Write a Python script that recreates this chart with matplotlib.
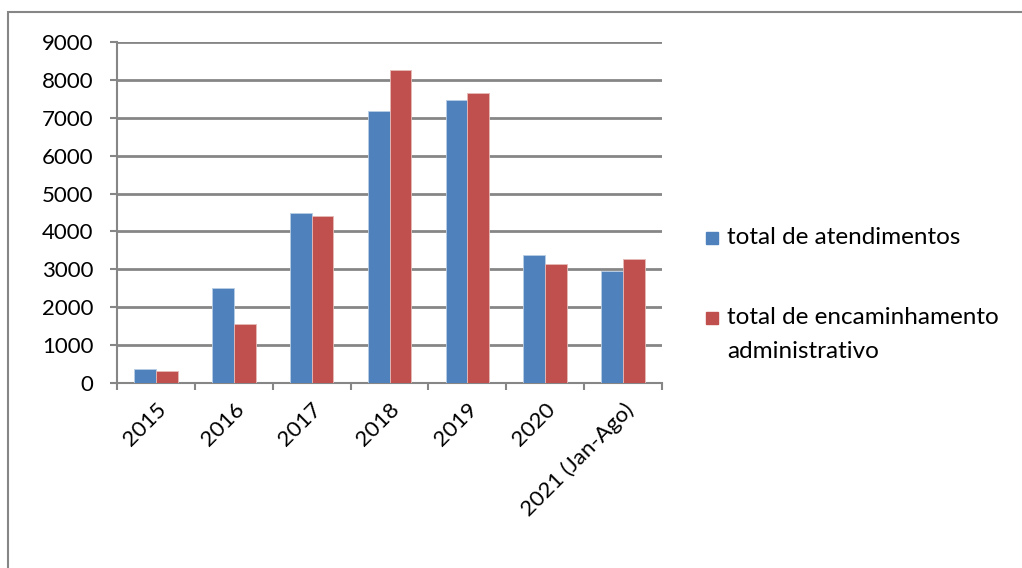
import numpy as np
import matplotlib.pyplot as plt
from matplotlib.patches import Rectangle

plt.rcParams['font.family'] = ['Lato', 'DejaVu Sans']

anos = ['2015', '2016', '2017', '2018', '2019', '2020', '2021 (Jan-Ago)']
atendimentos = [380, 2500, 4480, 7180, 7480, 3370, 2960]
encaminhamentos = [320, 1570, 4400, 8260, 7660, 3130, 3280]
legenda = ['total de atendimentos', 'total de encaminhamento', 'administrativo']

azul = '#4F81BD'
vermelho = '#C0504D'
cinza = '#868686'

fig = plt.figure(figsize=(10.22, 5.68), dpi=100)
ax = fig.add_axes([117/1022, 1 - 383/568, (662-117)/1022, (383-42)/568])

x = np.arange(len(anos))
w = 0.28
ax.bar(x - w/2, atendimentos, w, color=azul, edgecolor='#B9CDE5', linewidth=0.6, zorder=3)
ax.bar(x + w/2, encaminhamentos, w, color=vermelho, edgecolor='#E6B9B8', linewidth=0.6, zorder=3)

ax.set_xlim(-0.5, len(anos) - 0.5)
ax.set_ylim(0, 9000)
ax.set_yticks(range(0, 9001, 1000))
ax.yaxis.grid(True, color=cinza, linewidth=2, zorder=0)
for s in ['top', 'right']:
    ax.spines[s].set_visible(False)
for s in ['left', 'bottom']:
    ax.spines[s].set_color(cinza)
    ax.spines[s].set_linewidth(1.5)

ax.set_xticks(x)
ax.set_xticklabels(anos, rotation=45, ha='right', rotation_mode='anchor')
ax.set_xticks(np.arange(-0.5, len(anos)), minor=True)
ax.tick_params(axis='x', which='major', length=0, pad=12, labelsize=16)
ax.tick_params(axis='x', which='minor', length=5, width=1.5, color=cinza)
ax.tick_params(axis='y', length=5, width=1.5, color=cinza, labelsize=16, pad=12)

# legenda manual (marcador alinhado com a primeira linha do texto)
for cor, yc in [(azul, 238), (vermelho, 318)]:
    fig.patches.append(Rectangle((706/1022, 1 - (yc + 6)/568), 12/1022, 12/568,
                                 transform=fig.transFigure, color=cor))
for txt, yc in zip(legenda, [238, 318, 352]):
    fig.text(727/1022, 1 - yc/568, txt, fontsize=17.5, va='center', ha='left')

fig.patches.append(Rectangle((8/1022, -0.05), 1.1, 1 - 12/568 + 0.05,
                             transform=fig.transFigure, fill=False,
                             edgecolor=cinza, linewidth=1.5))

fig.savefig('out.png', dpi=100)
